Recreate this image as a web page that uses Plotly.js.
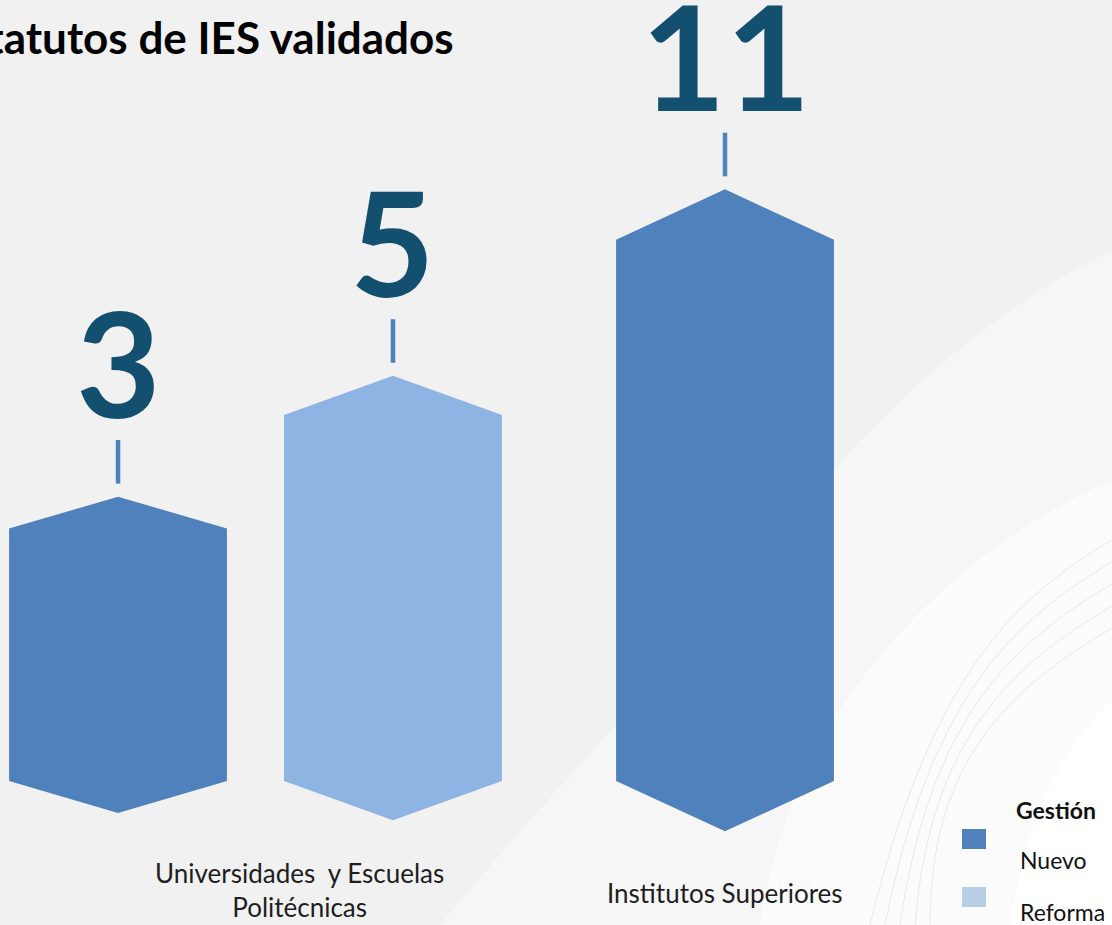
<!DOCTYPE html>
<html><head><meta charset="utf-8">
<script src="https://cdn.plot.ly/plotly-3.0.1.min.js"></script>
<style>html,body{margin:0;padding:0;background:#f1f1f1}#chart{width:1112px;height:925px}</style>
</head><body><div id="chart"></div><script>
// ---- data ----
const titleText = "Estatutos de IES validados";
const categories = ["Universidades  y Escuelas<br>Politécnicas", "Institutos Superiores"];
const seriesNames = ["Nuevo", "Reforma"];
const nuevo = [3, 11];
const reforma = [5, null];
const legendTitle = "Gestión";

// ---- style ----
const barColors = {Nuevo: "#4f81bd", Reforma: "#8eb4e3"};
const legendColors = {Nuevo: "#4f81bd", Reforma: "#b9cde5"};
const numColor = "#134f6e";
const step = 0.5857, hw = 0.232;
const baseLog = -0.045;

const seriesVals = {Nuevo: nuevo, Reforma: reforma};
const traces = [];
const annotations = [];

categories.forEach((cat, ci) => {
  const present = seriesNames.filter(s => seriesVals[s][ci] != null);
  present.forEach((s, k) => {
    const v = seriesVals[s][ci];
    const cx = ci + (k - (present.length - 1) / 2) * step;
    const L = Math.log10(v);
    const cap = 0.03 + 0.06 * L;
    const p = e => Math.pow(10, e);
    traces.push({
      type: "scatter", mode: "lines", fill: "toself",
      x: [cx - hw, cx - hw, cx, cx + hw, cx + hw, cx, cx - hw],
      y: [p(baseLog), p(L - cap), p(L), p(L - cap), p(baseLog), p(baseLog - cap), p(baseLog)],
      fillcolor: barColors[s], line: {width: 0, color: barColors[s]},
      name: s, showlegend: false, hoverinfo: "skip"
    });
    // connector tick
    traces.push({
      type: "scatter", mode: "lines",
      x: [cx, cx], y: [p(L + 0.024), p(L + 0.104)],
      line: {width: 4.5, color: "#4f81bd"}, showlegend: false, hoverinfo: "skip"
    });
    annotations.push({
      x: cx, y: L, xref: "x", yref: "y", yshift: 135, xanchor: "center", yanchor: "middle",
      text: String(v), showarrow: false,
      font: {family: "Lato", size: 146, color: numColor, weight: 700}
    });
  });
});

// category labels
annotations.push({x: 0, y: 1 - 890/925, xref: "x", yref: "paper", xshift: 44, xanchor: "center", yanchor: "middle",
  text: categories[0], showarrow: false, font: {family: "Lato", size: 26, color: "#1e1e1e"}});
annotations.push({x: 1, y: 1 - 893/925, xref: "x", yref: "paper", xanchor: "center", yanchor: "middle",
  text: categories[1], showarrow: false, font: {family: "Lato", size: 26, color: "#1e1e1e"}});

// title
annotations.push({x: 456/1112, y: 1 - 37/925, xref: "paper", yref: "paper", xanchor: "right", yanchor: "middle",
  text: "<b>" + titleText + "</b>", showarrow: false, font: {family: "Lato", size: 44, color: "#000"}});

// legend
annotations.push({x: 1056/1112, y: 1 - 810/925, xref: "paper", yref: "paper", xanchor: "center", yanchor: "middle",
  text: "<b>" + legendTitle + "</b>", showarrow: false, font: {family: "Lato", size: 23, color: "#111"}});
annotations.push({x: 1018/1112, y: 1 - 860/925, xref: "paper", yref: "paper", xanchor: "left", yanchor: "middle",
  text: seriesNames[0], showarrow: false, font: {family: "Lato", size: 23, color: "#111"}});
annotations.push({x: 1018/1112, y: 1 - 912/925, xref: "paper", yref: "paper", xanchor: "left", yanchor: "middle",
  text: seriesNames[1], showarrow: false, font: {family: "Lato", size: 23, color: "#111"}});

const shapes = [
  // background swooshes (pixel coords on overlay axes)
  {type: "path", xref: "x2", yref: "y2", layer: "below", line: {width: 0},
   fillcolor: "rgba(255,255,255,0.35)",
   path: "M 1112 250 C 1010 300, 900 390, 835 470 C 700 640, 560 780, 440 925 L 1112 925 Z"},
  {type: "path", xref: "x2", yref: "y2", layer: "below", line: {width: 0},
   fillcolor: "rgba(255,255,255,0.55)",
   path: "M 1112 480 C 1000 530, 900 610, 820 740 C 790 800, 770 860, 760 925 L 1112 925 Z"},
  {type: "path", xref: "x2", yref: "y2", layer: "below", line: {width: 0},
   fillcolor: "rgba(255,255,255,0.85)",
   path: "M 1112 700 C 1070 740, 1030 800, 1010 925 L 1112 925 Z"},
  // legend swatches
  {type: "rect", xref: "x2", yref: "y2", x0: 962, x1: 986, y0: 829, y1: 849,
   fillcolor: legendColors.Nuevo, line: {width: 0}},
  {type: "rect", xref: "x2", yref: "y2", x0: 962, x1: 986, y0: 887, y1: 907,
   fillcolor: legendColors.Reforma, line: {width: 0}}
];
// faint guide lines in swoosh
[0, 1, 2, 3, 4].forEach(i => {
  shapes.push({type: "path", xref: "x2", yref: "y2", layer: "below",
    line: {width: 1, color: "rgba(215,218,224,0.6)"},
    path: `M 1112 ${540 + i*22} C 1010 ${600 + i*22}, 930 ${680 + i*20}, ${870 + i*15} 925`});
});

const layout = {
  width: 1112, height: 925,
  margin: {l: 0, r: 0, t: 0, b: 0},
  paper_bgcolor: "#f1f1f1", plot_bgcolor: "rgba(0,0,0,0)",
  xaxis: {range: [-255.5/469.5, (1112-255.5)/469.5], visible: false, fixedrange: true},
  yaxis: {type: "log", range: [-0.3094, 1.3891], visible: false, fixedrange: true},
  xaxis2: {range: [0, 1112], overlaying: "x", visible: false},
  yaxis2: {range: [925, 0], overlaying: "y", visible: false},
  showlegend: false,
  shapes: shapes,
  annotations: annotations
};

Plotly.newPlot("chart", traces, layout, {displayModeBar: false, staticPlot: true});
</script></body></html>
